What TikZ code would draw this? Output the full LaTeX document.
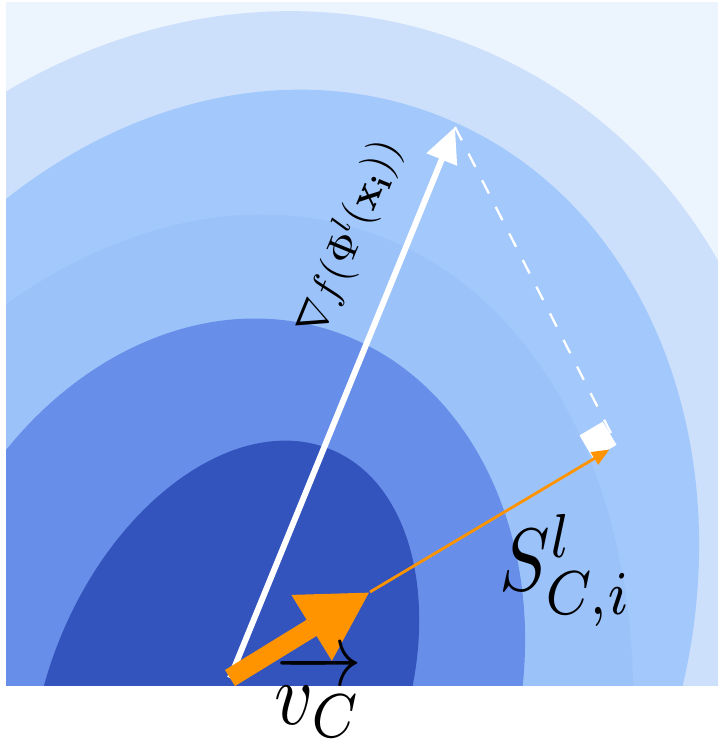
\documentclass[tikz,border=0pt]{standalone}
\usepackage{amsmath}
\usepackage{amssymb}
\usepackage{tikz}
\usetikzlibrary{arrows.meta,calc}

\definecolor{fieldbg}{HTML}{ECF4FE}
\definecolor{fieldA}{HTML}{CCE0FC}
\definecolor{fieldB}{HTML}{A3C8FB}
\definecolor{fieldC}{HTML}{9BC3FA}
\definecolor{fieldD}{HTML}{678EE8}
\definecolor{fieldE}{HTML}{3353BD}
\definecolor{vcorange}{HTML}{FF9400}

\begin{document}
\begin{tikzpicture}[x=0.02cm, y=-0.02cm,
    gradvec/.style={white, line width=3.4pt, -{Triangle[length=20pt, width=18pt]}},
    projline/.style={white, line width=1.3pt, dash pattern=on 8.5pt off 8.5pt},
    vcvec/.style={vcorange, line width=10.8pt, -{Triangle[length=39pt, width=41pt]}},
    spanvec/.style={vcorange, line width=1.6pt, shorten >=5pt, -{Triangle[length=10pt, width=8pt]}},
    rightmark/.style={fill=white, minimum size=0.54cm, inner sep=0pt, rotate=30.6, anchor=south east},
    biglbl/.style={xscale=4.3, yscale=5.05, inner sep=0pt},
    gradlbl/.style={scale=2.4, inner sep=0pt},
  ]
  \useasboundingbox (0,0) rectangle (718,740);

  %% -- level sets of f (tilted ellipses) --
  \begin{scope}
    \clip (6,2) rectangle (718,685);
    \fill[fieldbg] (6,2) rectangle (718,685);
    \fill[fieldA, rotate around={-28.6:(242,591)}] (242,591) ellipse [x radius=534, y radius=592.7];
    \fill[fieldB, rotate around={-23.8:(233,621)}] (233,621) ellipse [x radius=448.9, y radius=545.8];
    \fill[fieldC, rotate around={-20:(153,842)}] (153,842) ellipse [x radius=453.4, y radius=646.9];
    \fill[fieldD, rotate around={-18:(216,686)}] (216,686) ellipse [x radius=301.4, y radius=373.7];
    \fill[fieldE, rotate around={-23.3:(225,700)}] (225,700) ellipse [x radius=176, y radius=272];
  \end{scope}

  %% -- vectors --
  \coordinate (O) at (230,678);
  \coordinate (G) at (455,127);
  \coordinate (P) at (370,592);
  \coordinate (F) at (617,445);

  \draw[gradvec] (O) -- (G);
  \draw[projline] (G) -- (F);
  \node[rightmark] (mark) at (F) {};
  \draw[spanvec] (P) -- (F);
  \draw[vcvec] (O) -- (P);

  %% -- labels --
  \node[gradlbl, rotate=67.7] (gradtxt) at (349,238) {$\nabla f(\Phi^l(\mathbf{x_i}))$};
  \node[biglbl, anchor=base west] (stxt) at (498,590) {$S^l_{C,i}$};
  \node[biglbl, anchor=base west] (vctxt) at (273,724) {$\overrightarrow{v_C}$};
\end{tikzpicture}
\end{document}
